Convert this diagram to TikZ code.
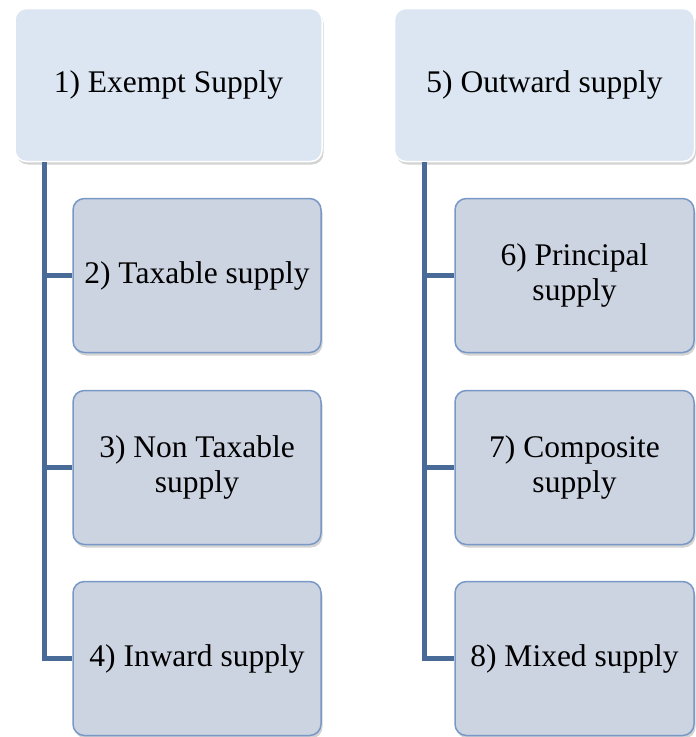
\documentclass[tikz,border=0pt]{standalone}
\usepackage{fontspec}
\setmainfont{Liberation Serif}
\usepackage{tikz}
\usetikzlibrary{positioning,shadows}
\tikzstyle{chart} = [x = 1pt, y = -1pt]
\definecolor{parentFill}{RGB}{220,230,242}
\definecolor{childFill}{RGB}{204,211,225}
\definecolor{childEdge}{RGB}{120,152,198}
\definecolor{lineColor}{RGB}{72,107,152}
\tikzstyle{boxText} = [font=\fontsize{31.5}{35}\selectfont, align=center, inner sep=0pt]
\tikzstyle{parentBox} = [boxText, fill=parentFill, draw=white, line width=1.5pt, rounded corners=.4cm, minimum height=153pt, drop shadow={shadow xshift=1.5pt, shadow yshift=-3pt, opacity=.35}]
\tikzstyle{childBox} = [boxText, fill=childFill, draw=childEdge, line width=1.5pt, rounded corners=.4cm, minimum height=154pt, drop shadow={shadow xshift=1.5pt, shadow yshift=-3pt, opacity=.35}]
\tikzstyle{treeLine} = [color=lineColor, line width=5pt]
\newcommand{\leftChild}[3]{\node [childBox, minimum width=248pt] (#1) at (197, #2) {#3};}
\newcommand{\rightChild}[3]{\node [childBox, minimum width=239pt] (#1) at (574.5, #2) {#3};}

\begin{document}
\begin{tikzpicture}[chart]
  \useasboundingbox (0,0) rectangle (696,737);
  % parents
  \node [parentBox, minimum width=307pt] (exempt) at (168.5, 85) {1) Exempt Supply};
  \node [parentBox, minimum width=300pt] (outward) at (544.5, 85) {5) Outward supply};
  % left column
  \leftChild{taxable}{275.5}{2) Taxable supply}
  \leftChild{nonTaxable}{467.5}{3) Non Taxable\\supply}
  \leftChild{inward}{658.5}{4) Inward supply}
  % right column
  \rightChild{principal}{275.5}{6) Principal\\supply}
  \rightChild{composite}{467.5}{7) Composite\\supply}
  \rightChild{mixed}{658.5}{8) Mixed supply}
  % tree lines
  \coordinate (leftTrunk) at ([xshift=30pt]exempt.south west);
  \coordinate (rightTrunk) at ([xshift=31pt]outward.south west);
  \draw [treeLine] (leftTrunk) |- (inward.west);
  \draw [treeLine] (leftTrunk |- taxable.west) -- (taxable.west);
  \draw [treeLine] (leftTrunk |- nonTaxable.west) -- (nonTaxable.west);
  \draw [treeLine] (rightTrunk) |- (mixed.west);
  \draw [treeLine] (rightTrunk |- principal.west) -- (principal.west);
  \draw [treeLine] (rightTrunk |- composite.west) -- (composite.west);
\end{tikzpicture}
\end{document}
